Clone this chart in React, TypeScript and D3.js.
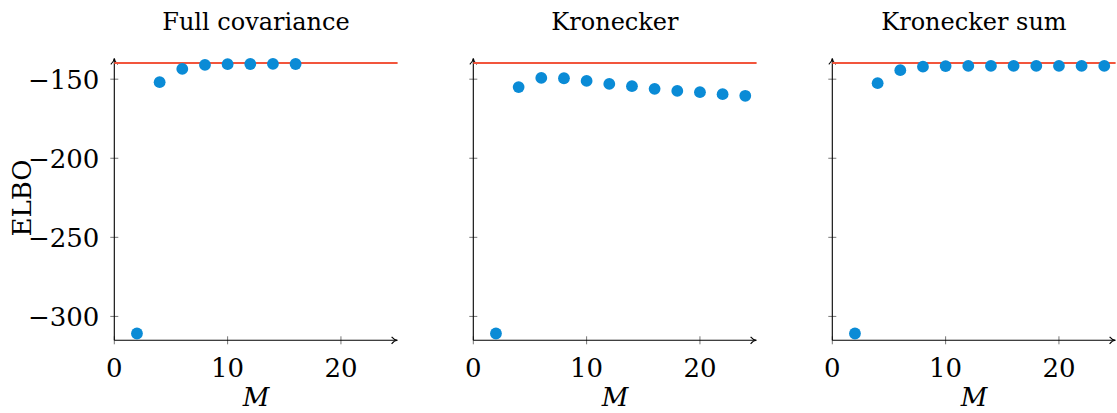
import React from "react";
import * as d3 from "d3";

const titles = ["Full covariance", "Kronecker", "Kronecker sum"];
const mFull = [2, 4, 6, 8, 10, 12, 14, 16];
const elboFull = [-310.8, -151.9, -143.5, -141.0, -140.5, -140.4, -140.3, -140.4];
const mKron = [2, 4, 6, 8, 10, 12, 14, 16, 18, 20, 22, 24];
const elboKron = [-310.8, -155.0, -149.2, -149.4, -151.1, -153.0, -154.4, -156.1, -157.4, -158.2, -159.5, -160.5];
const mKsum = [2, 4, 6, 8, 10, 12, 14, 16, 18, 20, 22, 24];
const elboKsum = [-310.8, -152.5, -144.3, -142.1, -141.7, -141.6, -141.6, -141.6, -141.6, -141.6, -141.6, -141.6];
const referenceElbo = -139.7;
const xTicks = [0, 10, 20];
const yTicks = [-150, -200, -250, -300];

const panels = [
  { title: titles[0], m: mFull, elbo: elboFull, yLabels: true },
  { title: titles[1], m: mKron, elbo: elboKron, yLabels: false },
  { title: titles[2], m: mKsum, elbo: elboKsum, yLabels: false },
];

const FONT = "DejaVu Serif";
const BLUE = "#0a8bd6";
const RED = "#f2553c";

export default function App() {
  const panelLeft = [114.3, 473.3, 832.3];
  const axisW = 283.3;
  const yTop = 58.3;
  const yBottom = 340.3;
  const y = d3.scaleLinear().domain([-315.1, -136.8]).range([yBottom, yTop]);

  return (
    <svg
      width={1117}
      height={413}
      style={{ position: "absolute", left: 0, top: 0, background: "#fff" }}
      fontFamily={FONT}
    >
      {panels.map((p, i) => {
        const x0 = panelLeft[i];
        const x = d3.scaleLinear().domain([0, 25]).range([x0, x0 + axisW]);
        const cx = x0 + axisW / 2;
        return (
          <g key={i}>
            <text x={cx} y={30} textAnchor="middle" fontSize={24}>
              {p.title}
            </text>
            {yTicks.map((t) => (
              <g key={t}>
                <line x1={x0 - 4} x2={x0 + 4} y1={y(t)} y2={y(t)} stroke="#777" strokeWidth={1} />
                {p.yLabels && (
                  <text x={x0 - 15} y={y(t) + 10} textAnchor="end" fontSize={26}>
                    {"\u2212" + Math.abs(t)}
                  </text>
                )}
              </g>
            ))}
            {xTicks.map((t) => (
              <g key={t}>
                <line x1={x(t)} x2={x(t)} y1={yBottom - 4} y2={yBottom + 4} stroke="#777" strokeWidth={1} />
                <text x={x(t)} y={377} textAnchor="middle" fontSize={26}>
                  {t}
                </text>
              </g>
            ))}
            <line x1={x0} x2={x0} y1={yBottom} y2={yTop + 1} stroke="#000" strokeWidth={1.1} />
            <line x1={x0} x2={x0 + axisW - 1} y1={yBottom} y2={yBottom} stroke="#000" strokeWidth={1.1} />
            <path
              d={`M${x0 - 3.5},${yTop + 6} Q${x0},${yTop + 3} ${x0},${yTop} Q${x0},${yTop + 3} ${x0 + 3.5},${yTop + 6}`}
              fill="none"
              stroke="#000"
              strokeWidth={1.1}
            />
            <path
              d={`M${x0 + axisW - 6},${yBottom - 3.5} Q${x0 + axisW - 3},${yBottom} ${x0 + axisW},${yBottom} Q${x0 + axisW - 3},${yBottom} ${x0 + axisW - 6},${yBottom + 3.5}`}
              fill="none"
              stroke="#000"
              strokeWidth={1.1}
            />
            <line
              x1={x(0)}
              x2={x(25)}
              y1={y(referenceElbo)}
              y2={y(referenceElbo)}
              stroke={RED}
              strokeWidth={2}
            />
            {p.m.map((m, j) => (
              <circle key={j} cx={x(m)} cy={y(p.elbo[j])} r={5.9} fill={BLUE} />
            ))}
            <text x={cx} y={406} textAnchor="middle" fontSize={26} fontStyle="italic">
              M
            </text>
          </g>
        );
      })}
      <text transform="translate(31,198) rotate(-90)" textAnchor="middle" fontSize={26}>
        ELBO
      </text>
    </svg>
  );
}
